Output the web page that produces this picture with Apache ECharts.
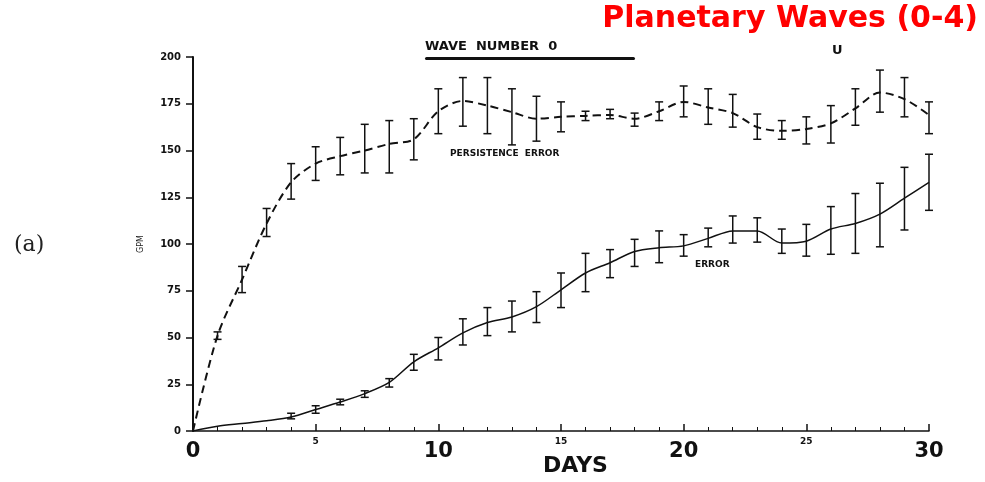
<!DOCTYPE html>
<html>
<head>
<meta charset="UTF-8">
<title>Planetary Waves (0-4)</title>
<script src="https://cdn.jsdelivr.net/npm/echarts@6/dist/echarts.min.js"></script>
<style>
    html, body { margin: 0; padding: 0; background: #fff; }
    #main { width: 985px; height: 482px; }
</style>
</head>
<body>
<div id="main"></div>
<script>
    // days 0..30
    const days = [0, 1, 2, 3, 4, 5, 6, 7, 8, 9, 10, 11, 12, 13, 14, 15, 16, 17, 18, 19, 20, 21, 22, 23, 24, 25, 26, 27, 28, 29, 30];

    // persistence error (dashed) with error bar ends
    const persist = [0, 51, 81, 111, 133, 143, 147, 150, 153.5, 156, 171, 176.5, 174, 170.5, 167, 168, 168.5, 169, 167, 171, 176, 173, 170, 162.5, 160.5, 161.5, 164.5, 172.5, 181, 177.5, 169];
    const persistLow = [null, 49, 74, 104, 124, 134, 137, 138, 138, 145, 159, 163, 159, 153, 155, 160, 166, 167, 163, 166, 168, 164, 162.5, 156, 156, 153.5, 154, 163.5, 170.5, 168, 159];
    const persistHigh = [null, 53, 88, 119, 143, 152, 157, 164, 166, 167, 183, 189, 189, 183, 179, 176, 171, 172, 170, 176, 184.5, 183, 180, 169.5, 166, 168, 174, 183, 193, 189, 176];

    // forecast error (solid) with error bar ends
    const errMean = [0, 2.5, 4, 5.5, 7.5, 11.5, 15.5, 20, 26, 37, 44.5, 52.5, 58, 61, 66.5, 75.5, 84.5, 90, 96, 98, 99, 103, 107, 107, 100.5, 101.5, 108, 111, 116, 124.5, 133];
    const errLow = [null, null, null, null, 6.5, 9.5, 14, 18, 23.5, 32.5, 38, 46, 51, 53, 58, 66, 74.5, 82, 88, 90, 93.5, 98.5, 100.5, 101, 95, 93.5, 94.5, 95, 98.5, 107.5, 118];
    const errHigh = [null, null, null, null, 9.5, 13.5, 17, 21.5, 28, 41, 50, 60, 66, 69.5, 74.5, 84.5, 95, 97, 102.5, 107, 105, 108.5, 115, 114, 108, 110.5, 120, 127, 132.5, 141, 148];

    const bigTicks = [0, 10, 20, 30];

    const chart = echarts.init(document.getElementById('main'));

    function pairs(ys) {
        return days.map((d, i) => [d, ys[i]]);
    }
    function bars(lo, hi) {
        const out = [];
        days.forEach((d, i) => {
            if (lo[i] != null && hi[i] != null) out.push([d, lo[i], hi[i]]);
        });
        return out;
    }

    // vertical bar with small caps
    function renderBar(params, api) {
        const x = api.value(0);
        const top = api.coord([x, api.value(2)]);
        const bot = api.coord([x, api.value(1)]);
        const w = 4;
        const st = { stroke: '#111', lineWidth: 1.5 };
        return {
            type: 'group',
            children: [
                { type: 'line', shape: { x1: top[0], y1: top[1], x2: bot[0], y2: bot[1] }, style: st },
                { type: 'line', shape: { x1: top[0] - w, y1: top[1], x2: top[0] + w, y2: top[1] }, style: st },
                { type: 'line', shape: { x1: bot[0] - w, y1: bot[1], x2: bot[0] + w, y2: bot[1] }, style: st }
            ]
        };
    }

    const option = {
        backgroundColor: '#fff',
        animation: false,
        grid: { left: 193, right: 56, top: 57, bottom: 51 },
        xAxis: {
            type: 'value',
            min: 0,
            max: 30,
            interval: 5,
            axisLine: { lineStyle: { color: '#111', width: 1.5 } },
            axisTick: { inside: true, length: 7, lineStyle: { color: '#111', width: 1.5 } },
            minorTick: { show: true, splitNumber: 5, length: 4, lineStyle: { color: '#111' } },
            splitLine: { show: false },
            axisLabel: {
                margin: 6,
                formatter: function (v) {
                    return bigTicks.indexOf(v) >= 0 ? '{big|' + v + '}' : '{small|' + v + '}';
                },
                rich: {
                    big: { fontSize: 21, fontWeight: 'bold', fontFamily: 'DejaVu Sans', color: '#111', padding: [4, 0, 0, 0] },
                    small: { fontSize: 9, fontWeight: 'bold', fontFamily: 'DejaVu Sans', color: '#111' }
                }
            }
        },
        yAxis: {
            type: 'value',
            min: 0,
            max: 200,
            interval: 25,
            name: 'GPM',
            nameLocation: 'middle',
            nameRotate: 90,
            nameGap: 48,
            nameTextStyle: { fontSize: 8, fontFamily: 'DejaVu Sans', color: '#222' },
            axisLine: { show: true, lineStyle: { color: '#111', width: 2 } },
            axisTick: { show: true, length: 7, lineStyle: { color: '#111', width: 1.5 } },
            splitLine: { show: false },
            axisLabel: { margin: 12, fontSize: 10, fontWeight: 'bold', fontFamily: 'DejaVu Sans', color: '#111' }
        },
        series: [
            {
                type: 'line',
                data: pairs(persist),
                smooth: 0.3,
                symbol: 'none',
                lineStyle: { color: '#111', width: 2, type: [8, 5] }
            },
            {
                type: 'line',
                data: pairs(errMean),
                smooth: 0.3,
                symbol: 'none',
                lineStyle: { color: '#111', width: 1.5 }
            },
            {
                type: 'custom',
                renderItem: renderBar,
                data: bars(persistLow, persistHigh),
                z: 3
            },
            {
                type: 'custom',
                renderItem: renderBar,
                data: bars(errLow, errHigh),
                z: 3
            }
        ],
        graphic: [
            {
                type: 'text', right: 7, top: 4,
                style: { text: 'Planetary Waves (0-4)', fill: '#ff0000', font: 'bold 30px "DejaVu Sans"' }
            },
            {
                type: 'text', left: 425, top: 40,
                style: { text: 'WAVE  NUMBER  0', fill: '#111', font: 'bold 13px "DejaVu Sans"' }
            },
            {
                type: 'rect', shape: { x: 425, y: 57, width: 210, height: 3, r: 1.5 },
                style: { fill: '#111' }
            },
            {
                type: 'text', left: 450, top: 149,
                style: { text: 'PERSISTENCE  ERROR', fill: '#111', font: 'bold 9px "DejaVu Sans"' }
            },
            {
                type: 'text', left: 695, top: 260,
                style: { text: 'ERROR', fill: '#111', font: 'bold 9px "DejaVu Sans"' }
            },
            {
                type: 'text', left: 14, top: 234,
                style: { text: '(a)', fill: '#222', font: '22px "DejaVu Serif"' }
            },
            {
                type: 'text', left: 543, top: 455,
                style: { text: 'DAYS', fill: '#111', font: 'bold 22px "DejaVu Sans"' }
            },
            {
                type: 'text', left: 832, top: 44,
                style: { text: 'U', fill: '#111', font: 'bold 13px "DejaVu Sans"' }
            }
        ]
    };

    chart.setOption(option);
</script>
</body>
</html>
